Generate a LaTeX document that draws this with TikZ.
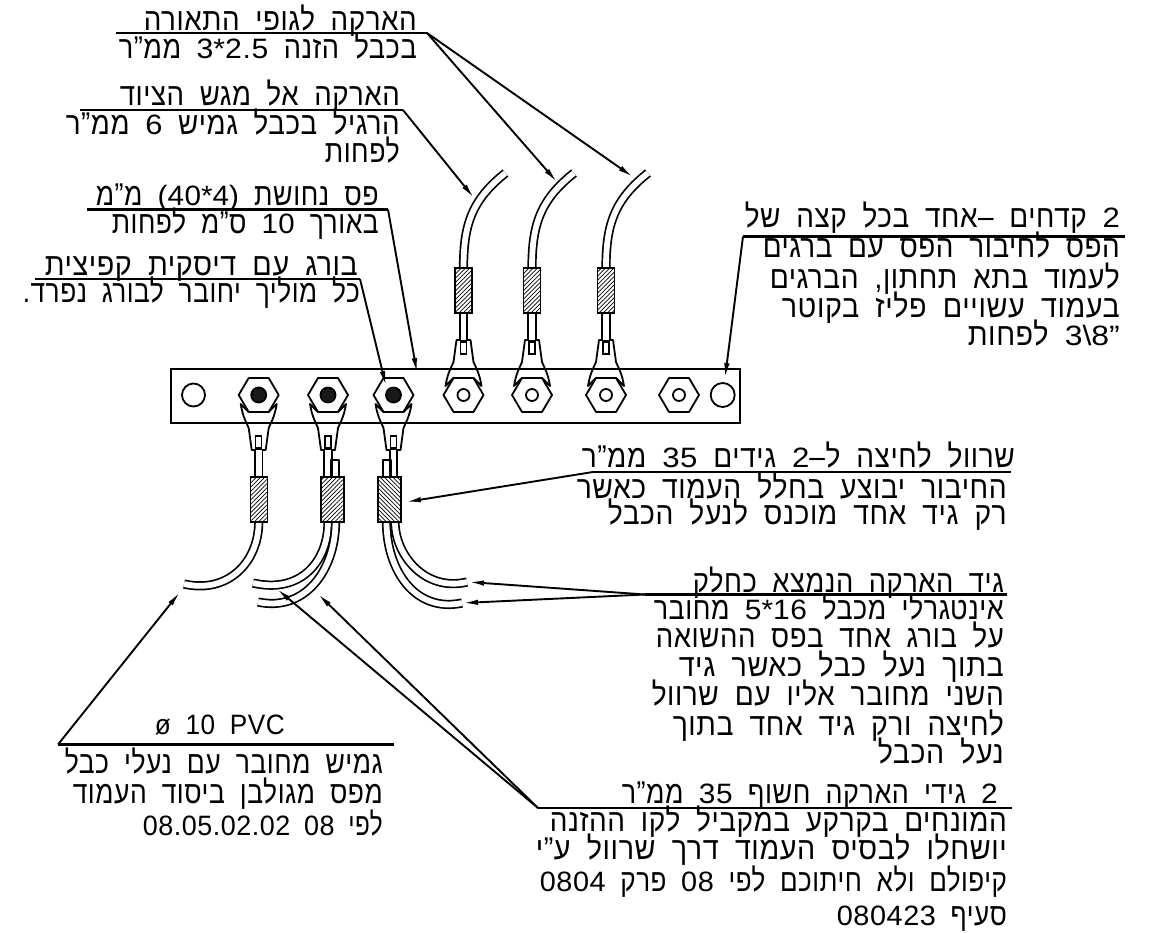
\documentclass[tikz,border=0pt]{standalone}
\usepackage{fontspec}
\usepackage{graphicx}
\usetikzlibrary{arrows.meta,patterns.meta}
\TeXXeTstate=1
\newfontfamily\hefont[Script=Hebrew,LetterSpace=2,WordSpace=1.9]{Liberation Sans}
\newfontfamily\lafont[LetterSpace=2,WordSpace=1.9]{Liberation Sans}
% one printed line: name, right end, baseline, width, text
\newcommand{\heline}[5]{\node[helabel] (#1) at (#2,#3) {\resizebox{#4pt}{\height}{#5}};}
% left to right pieces, each in a box of its own
\newcommand{\lt}[1]{\beginL\scalebox{1.25}[1]{\lafont\fontsize{28}{28}\selectfont #1}\endL{}}
\newcommand{\pc}[1]{\hbox{#1}}
\tikzset{
	helabel/.style={anchor=base east,inner sep=0pt,font=\hefont\fontsize{31.5}{32}\selectfont},
	shelf/.style={line width=2.1pt},
	leader/.style={line width=1.9pt,-{Latex[length=15pt,width=5.5pt]}},
	part/.style={line width=1.8pt,line join=round},
	cable/.style={line width=1.7pt,double=white,double distance=5.8pt},
	hatchr/.style={line width=1.9pt,fill=white,postaction={pattern={Lines[angle=45,distance=3pt,line width=0.7pt]}}},
	hatchl/.style={line width=1.9pt,fill=white,postaction={pattern={Lines[angle=-45,distance=3pt,line width=0.7pt]}}},
	hexpic/.pic={
		\draw[part] (-20,0) -- (-10,-17) -- (10,-17) -- (20,0) -- (10,17) -- (-10,17) -- cycle;
	},
	lugpic/.pic={
		\draw[part] (-18,9) -- (-10,17) -- (10,17) -- (18,9) .. controls (16,22) and (12,28) .. (10,33) -- (7,55) -- (-7,55) -- (-10,33) .. controls (-12,28) and (-16,22) .. (-18,9) -- cycle;
		\draw[line width=1.5pt] (-3,41) rectangle (3,53);
	}
}
\begin{document}
\begin{tikzpicture}[x=1pt,y=-1pt]
	\useasboundingbox (0,0) rectangle (1155,933);
	% bar and holes
	\draw[line width=2.8pt] (171,369) rectangle (740,423);
	\draw[part] (193.5,395) circle (11.5);
	\draw[part] (722.7,395) circle (12);
	% lower side, nuts with a black centre
	\foreach \x in {258.7,328,393.5}{
		\pic at (\x,395) {hexpic};
		\draw[part,fill=black!90] (\x,395) circle (7.5);
		\pic at (\x,395) {lugpic};
		\draw[cable] (\x,450) -- (\x,477);
	}
	% upper side
	\foreach \x in {463.5,532,606}{
		\pic at (\x,395) {hexpic};
		\draw[part] (\x,395) circle (6);
		\pic[yscale=-1] at (\x,395) {lugpic};
		\draw[cable] (\x,340) -- (\x,313);
		\draw[cable] (\x,268) .. controls (\x,225) and (\x+8,200) .. (\x+42,173);
		\draw[hatchr] (\x-8.5,268) rectangle (\x+8.5,313);
	}
	\pic at (679,395) {hexpic};
	\draw[part] (679,395) circle (6);
	% cables going down
	\draw[cable] (258.7,522) .. controls (258.7,562) and (228,594) .. (184,584);
	\draw[cable] (328,522) .. controls (328,562) and (300,594) .. (253,583);
	\draw[cable] (335.5,522) .. controls (335.5,570) and (305,612) .. (258,602);
	\draw[cable] (395,522) .. controls (395,555) and (425,592) .. (467,582);
	\draw[cable] (386.5,522) .. controls (386.5,570) and (415,613) .. (462,603);
	\draw[part] (331,477) -- (331,460) -- (339.3,460) -- (339.3,477);
	\draw[part] (382.7,477) -- (382.7,460) -- (390.7,460) -- (390.7,477);
	\draw[hatchr] (250.5,477) rectangle (267.5,522);
	\draw[hatchr] (321,477) rectangle (344,522);
	\draw[hatchl] (378,477) rectangle (401,522);
	% free ends of the leaders
	\coordinate (lampA) at (427,33);
	\coordinate (lampB) at (116,33);
	\coordinate (trayA) at (403,110);
	\coordinate (trayB) at (80,110);
	\coordinate (stripA) at (388,209.5);
	\coordinate (stripB) at (87,209.5);
	\coordinate (boltA) at (360,279);
	\coordinate (boltB) at (35,279);
	\coordinate (holeA) at (743,236.5);
	\coordinate (holeB) at (1125,236.5);
	\coordinate (sleeveA) at (593,472);
	\coordinate (sleeveB) at (1011,472);
	\coordinate (coreA) at (645,594.5);
	\coordinate (coreB) at (1007,594.5);
	\coordinate (pvcA) at (58,744.5);
	\coordinate (pvcB) at (394,744.5);
	\coordinate (bareA) at (538,808);
	\coordinate (bareB) at (1012,808);
	\coordinate (tipLampA) at (557,182);
	\coordinate (tipLampB) at (633,177);
	\coordinate (tipTray) at (474,198);
	\coordinate (tipStrip) at (417,373);
	\coordinate (tipBolt) at (386,386);
	\coordinate (tipHole) at (725,378);
	\coordinate (tipSleeve) at (406,502);
	\coordinate (tipCoreA) at (469,582);
	\coordinate (tipCoreB) at (463,603);
	\coordinate (tipPvc) at (180,592);
	\coordinate (tipBareA) at (277,589);
	\coordinate (tipBareB) at (318,594);
	% shelves
	\foreach \a/\b in {lampB/lampA,trayB/trayA,stripB/stripA,boltB/boltA,holeA/holeB,sleeveA/sleeveB,coreA/coreB,pvcA/pvcB,bareA/bareB}
		\draw[shelf] (\a) -- (\b);
	% leaders
	\draw[leader] (lampA) -- (tipLampA);
	\draw[leader] (lampA) -- (tipLampB);
	\draw[leader] (trayA) -- (tipTray);
	\draw[leader] (stripA) -- (tipStrip);
	\draw[leader] (boltA) -- (tipBolt);
	\draw[leader] (holeA) -- (tipHole);
	\draw[leader] (sleeveA) -- (tipSleeve);
	\draw[leader] (coreA) -- (tipCoreA);
	\draw[leader] (coreA) -- (tipCoreB);
	\draw[leader] (pvcA) -- (tipPvc);
	\draw[leader] (bareA) -- (tipBareA);
	\draw[leader] (bareA) -- (tipBareB);
	% texts
	\heline{lampa}{417}{31}{273}{\beginR הארקה לגופי התאורה\endR}
	\heline{lampb}{417}{59}{298}{\beginR בכבל הזנה \lt{\pc{3}\pc{*}\pc{2.5}} ממ”ר\endR}
	\heline{traya}{400}{106}{280}{\beginR הארקה אל מגש הציוד\endR}
	\heline{trayb}{400}{135}{334}{\beginR הרגיל בכבל גמיש \lt{6} ממ”ר\endR}
	\heline{trayc}{400}{163}{75}{\beginR לפחות\endR}
	\heline{stripa}{379}{206}{283}{\beginR פס נחושת \lt{\pc{(}\pc{40}\pc{*}\pc{4}\pc{)}} מ”מ\endR}
	\heline{stripb}{379}{234}{267}{\beginR באורך \lt{10} ס”מ לפחות\endR}
	\heline{bolta}{358}{275}{313}{\beginR בורג עם דיסקית קפיצית\endR}
	\heline{boltb}{360}{302}{337}{\beginR כל מוליך יחובר לבורג נפרד.\endR}
	\heline{holea}{1120}{228}{375}{\beginR \lt{2} קדחים –אחד בכל קצה של\endR}
	\heline{holeb}{1120}{258}{357}{\beginR הפס לחיבור הפס עם ברגים\endR}
	\heline{holec}{1120}{288}{350}{\beginR לעמוד בתא תחתון, הברגים\endR}
	\heline{holed}{1120}{317}{338}{\beginR בעמוד עשויים פליז בקוטר\endR}
	\heline{holee}{1120}{345}{152}{\beginR \lt{\pc{3}\pc{\textbackslash}\pc{8}\pc{”}} לפחות\endR}
	\heline{sleevea}{1015}{467}{433}{\beginR שרוול לחיצה ל–\lt{2} גידים \lt{35} ממ”ר\endR}
	\heline{sleeveb}{1007}{498}{430}{\beginR החיבור יבוצע בחלל העמוד כאשר\endR}
	\heline{sleevec}{1007}{524}{399}{\beginR רק גיד אחד מוכנס לנעל הכבל\endR}
	\heline{corea}{1004}{592}{311}{\beginR גיד הארקה הנמצא כחלק\endR}
	\heline{coreb}{1004}{619}{350}{\beginR אינטגרלי מכבל \lt{\pc{5}\pc{*}\pc{16}} מחובר\endR}
	\heline{corec}{1004}{647}{348}{\beginR על בורג אחד בפס ההשואה\endR}
	\heline{cored}{1004}{676}{325}{\beginR בתוך נעל כבל כאשר גיד\endR}
	\heline{coree}{1004}{705}{352}{\beginR השני מחובר אליו עם שרוול\endR}
	\heline{coref}{1004}{735}{331}{\beginR לחיצה ורק גיד אחד בתוך\endR}
	\heline{coreg}{1004}{763}{126}{\beginR נעל הכבל\endR}
	\node[helabel] (pvca) at (285,734) {\resizebox{130pt}{\height}{\lafont\fontsize{28}{28}\selectfont ø 10 PVC}};
	\heline{pvcb}{383}{773}{318}{\beginR גמיש מחובר עם נעלי כבל\endR}
	\heline{pvcc}{383}{803}{310}{\beginR מפס מגולבן ביסוד העמוד\endR}
	\heline{pvcd}{383}{835}{240}{\beginR לפי \lt{08} \lt{08.05.02.02}\endR}
	\heline{barea}{998}{803}{376}{\beginR \lt{2} גידי הארקה חשוף \lt{35} ממ”ר\endR}
	\heline{bareb}{1007}{831}{457}{\beginR המונחים בקרקע במקביל לקו ההזנה\endR}
	\heline{barec}{1007}{859}{471}{\beginR יושחלו לבסיס העמוד דרך שרוול ע”י\endR}
	\heline{bared}{1007}{891}{467}{\beginR קיפולם ולא חיתוכם לפי \lt{08} פרק \lt{0804}\endR}
	\heline{baree}{1007}{925}{170}{\beginR סעיף \lt{080423}\endR}
\end{tikzpicture}
\end{document}
